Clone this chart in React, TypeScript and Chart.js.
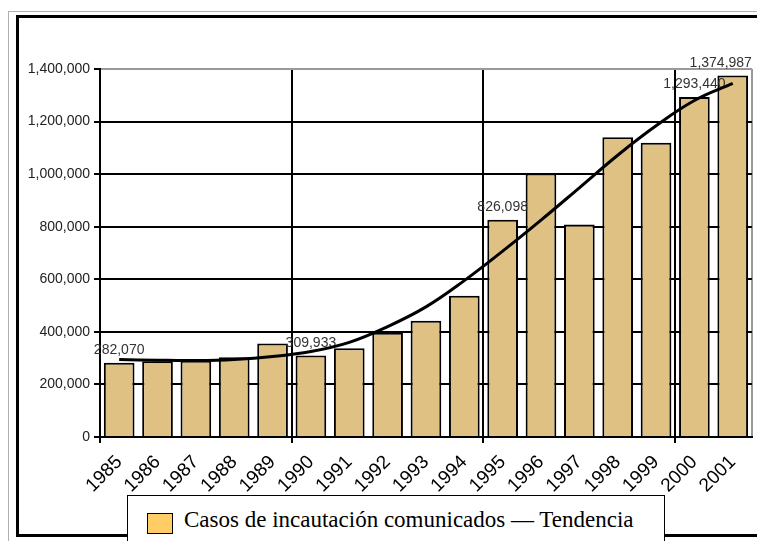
import React, { useEffect, useRef } from 'react';
import { Chart, registerables } from 'chart.js';

Chart.register(...registerables);

const years = ['1985', '1986', '1987', '1988', '1989', '1990', '1991', '1992', '1993', '1994', '1995', '1996', '1997', '1998', '1999', '2000', '2001'];
const seizures = [282070, 288000, 290000, 303000, 356000, 309933, 338000, 397000, 442000, 537000, 826098, 1002000, 808000, 1140000, 1119000, 1293440, 1374987];
const trend = [295000, 292000, 291000, 295000, 306000, 325000, 360000, 420000, 495000, 595000, 707000, 825000, 948000, 1072000, 1184000, 1280000, 1345000];
const yTicks = [0, 200000, 400000, 600000, 800000, 1000000, 1200000, 1400000];
const labeledYears = ['1985', '1990', '1995', '2000', '2001'];
const legendText = 'Casos de incautación comunicados — Tendencia';

const fmt = (v: number) => v.toLocaleString('en-US');

const valueLabels = {
  id: 'valueLabels',
  afterDatasetDraw(chart: any, args: any) {
    if (args.index !== 0) return;
    const ctx = chart.ctx;
    const meta = chart.getDatasetMeta(0);
    ctx.save();
    ctx.font = '14px "Liberation Sans", Arial, sans-serif';
    ctx.fillStyle = '#333';
    ctx.textAlign = 'center';
    ctx.textBaseline = 'alphabetic';
    meta.data.forEach((bar: any, i: number) => {
      if (!labeledYears.includes(years[i])) return;
      const text = fmt(seizures[i]);
      const w = ctx.measureText(text).width;
      let x = bar.x;
      const maxX = chart.chartArea.right - w / 2;
      if (x > maxX) x = maxX;
      ctx.fillText(text, x, bar.y - 9);
    });
    ctx.restore();
  },
};

export default function App() {
  const ref = useRef<HTMLCanvasElement>(null);

  useEffect(() => {
    if (!ref.current) return;
    const chart = new Chart(ref.current, {
      type: 'bar',
      data: {
        labels: years,
        datasets: [
          {
            type: 'bar',
            label: 'Casos de incautación comunicados',
            data: seizures,
            backgroundColor: '#DFC283',
            borderColor: '#000',
            borderWidth: 2,
            barPercentage: 0.8,
            categoryPercentage: 1,
            order: 1,
          },
          {
            type: 'line',
            label: 'Tendencia',
            data: trend,
            borderColor: '#000',
            borderWidth: 3,
            pointRadius: 0,
            fill: false,
            tension: 0.4,
            order: 0,
          } as any,
        ],
      },
      options: {
        responsive: false,
        animation: false,
        layout: { padding: { left: 0, right: 5, top: 69, bottom: 0 } },
        plugins: { legend: { display: false }, tooltip: { enabled: false }, title: { display: false } },
        scales: {
          x: {
            offset: true,
            grid: {
              offset: true,
              lineWidth: 2,
              tickLength: 6,
              color: (c: any) => (c.type !== 'tick' ? '#999' : c.index % 5 === 0 ? '#000' : 'rgba(0,0,0,0)'),
              tickColor: (c: any) => (c.type === 'tick' && c.index % 5 === 0 ? '#000' : 'rgba(0,0,0,0)'),
            },
            border: { color: '#000', width: 2 },
            ticks: {
              autoSkip: false,
              minRotation: 45,
              maxRotation: 45,
              padding: 8,
              color: '#000',
              font: { family: '"Liberation Sans", Arial, sans-serif', size: 19 },
            },
            afterFit: (s: any) => {
              s.height = 104;
            },
          },
          y: {
            min: 0,
            max: 1400000,
            afterBuildTicks: (s: any) => {
              s.ticks = yTicks.map((v) => ({ value: v }));
            },
            grid: {
              lineWidth: 2,
              tickLength: 6,
              tickColor: '#000',
              color: (c: any) => (c.tick && c.tick.value === 1400000 ? '#999' : '#000'),
            },
            border: { color: '#000', width: 2 },
            ticks: {
              padding: 4,
              color: '#222',
              font: { family: '"Liberation Sans", Arial, sans-serif', size: 14 },
              callback: (v: any) => fmt(Number(v)),
            },
            afterFit: (s: any) => {
              s.width = 100;
            },
          },
        },
      },
      plugins: [valueLabels],
    });
    return () => chart.destroy();
  }, []);

  return (
    <div style={{ position: 'fixed', left: 0, top: 0, width: 757, height: 541, overflow: 'hidden', background: '#fff' }}>
      <div style={{ position: 'absolute', left: 8, top: 11, width: 800, height: 600, border: '1px solid #b0b0b0' }} />
      <div style={{ position: 'absolute', left: 16, top: 15, width: 800, height: 522, boxSizing: 'border-box', border: '3px solid #000' }} />
      <canvas ref={ref} width={757} height={541} style={{ position: 'absolute', left: 0, top: 0, width: 757, height: 541 }} />
      <div
        style={{
          position: 'absolute',
          left: 127,
          top: 495,
          width: 538,
          height: 80,
          boxSizing: 'border-box',
          background: '#fff',
          border: '1.5px solid #000',
        }}
      >
        <div style={{ position: 'absolute', left: 19, top: 17, width: 24, height: 19, background: '#FFCC66', border: '1px solid #000' }} />
        <div
          style={{
            position: 'absolute',
            left: 56,
            top: 10,
            fontFamily: '"Liberation Serif", "Times New Roman", serif',
            fontSize: 23,
            color: '#000',
            whiteSpace: 'nowrap',
            lineHeight: '28px',
          }}
        >
          {legendText}
        </div>
      </div>
    </div>
  );
}
